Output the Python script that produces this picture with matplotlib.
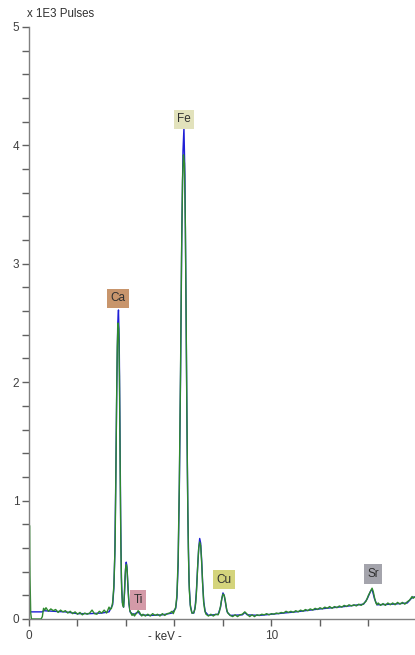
import matplotlib
matplotlib.use('Agg')
from matplotlib import pyplot as plt
from matplotlib.ticker import MultipleLocator

plt.rcParams['font.family'] = ['Liberation Sans', 'DejaVu Sans']

measKev = [
  0.00, 0.02, 0.04, 0.07, 0.10, 0.50, 0.55, 0.60, 0.65, 0.70,
  0.8, 0.9, 1.0, 1.1, 1.2, 1.3, 1.4, 1.5, 1.6, 1.7, 1.8, 1.9,
  2.0, 2.1, 2.2, 2.3, 2.4, 2.5, 2.6, 2.7, 2.8, 2.9, 3.0, 3.1, 3.2,
  3.3, 3.35, 3.4, 3.45, 3.5, 3.55, 3.58, 3.61, 3.64, 3.67, 3.70,
  3.73, 3.76, 3.79, 3.82, 3.86, 3.90, 3.93, 3.96, 3.99, 4.02, 4.05,
  4.08, 4.12, 4.16, 4.2, 4.25, 4.3, 4.35, 4.4, 4.45, 4.5, 4.55,
  4.6, 4.65, 4.7, 4.8, 4.9, 5.0, 5.1, 5.2, 5.3, 5.4, 5.5, 5.6, 5.7,
  5.8, 5.9, 5.95, 6.0, 6.05, 6.10, 6.15, 6.20, 6.25, 6.29, 6.33,
  6.37, 6.41, 6.45, 6.49, 6.53, 6.57, 6.61, 6.66, 6.72, 6.78, 6.84,
  6.88, 6.92, 6.96, 7.00, 7.04, 7.08, 7.12, 7.16, 7.20, 7.25, 7.3,
  7.4, 7.5, 7.6, 7.7, 7.8, 7.85, 7.9, 7.95, 8.0, 8.05, 8.1, 8.15,
  8.2, 8.3, 8.4, 8.5, 8.6, 8.7, 8.8, 8.9, 9.0, 9.1, 9.2, 9.3, 9.4,
  9.5, 9.6, 9.7, 9.8, 9.9, 10.0, 10.1, 10.2, 10.3, 10.4, 10.5, 10.6,
  10.7, 10.8, 10.9, 11.0, 11.1, 11.2, 11.3, 11.4, 11.5, 11.6, 11.7,
  11.8, 11.9, 12.0, 12.1, 12.2, 12.3, 12.4, 12.5, 12.6, 12.7, 12.8,
  12.9, 13.0, 13.1, 13.2, 13.3, 13.4, 13.5, 13.6, 13.7, 13.8, 13.9,
  14.0, 14.1, 14.15, 14.2, 14.25, 14.3, 14.35, 14.4, 14.5, 14.6,
  14.7, 14.8, 14.9, 15.0, 15.1, 15.2, 15.3, 15.4, 15.5, 15.6, 15.7,
  15.8, 15.85, 15.9, 16.0
]
measCounts = [
  0.05, 0.79, 0.36, 0.05, 0.00, 0.00, 0.02, 0.09, 0.075, 0.095,
  0.065, 0.085, 0.07, 0.08, 0.055, 0.075, 0.06, 0.07, 0.05, 0.065, 0.045, 0.06,
  0.04, 0.055, 0.035, 0.05, 0.04, 0.05, 0.075, 0.045, 0.04, 0.065, 0.05, 0.075, 0.05,
  0.10, 0.08, 0.09, 0.14, 0.28, 0.62, 1.15, 1.80, 2.30, 2.50, 2.45,
  2.05, 1.25, 0.60, 0.25, 0.12, 0.10, 0.20, 0.35, 0.44, 0.46, 0.40,
  0.27, 0.14, 0.07, 0.05, 0.03, 0.045, 0.025, 0.04, 0.05, 0.07, 0.06,
  0.04, 0.025, 0.04, 0.025, 0.04, 0.025, 0.045, 0.03, 0.04, 0.025, 0.045, 0.03, 0.045,
  0.05, 0.065, 0.045, 0.07, 0.10, 0.20, 0.50, 1.15, 2.10, 3.05, 3.70,
  3.92, 3.85, 3.30, 2.30, 1.30, 0.60, 0.25, 0.10, 0.05, 0.05, 0.08,
  0.14, 0.28, 0.46, 0.60, 0.65, 0.62, 0.48, 0.30, 0.15, 0.07, 0.04,
  0.025, 0.04, 0.025, 0.04, 0.035, 0.06, 0.11, 0.17, 0.21, 0.20, 0.15, 0.08,
  0.05, 0.03, 0.02, 0.035, 0.02, 0.035, 0.04, 0.06, 0.04, 0.02, 0.035, 0.02, 0.035,
  0.03, 0.04, 0.035, 0.045, 0.035, 0.045, 0.04, 0.05, 0.045, 0.055, 0.05, 0.065,
  0.055, 0.065, 0.055, 0.07, 0.06, 0.075, 0.065, 0.08, 0.07, 0.085, 0.075,
  0.09, 0.08, 0.095, 0.085, 0.1, 0.09, 0.105, 0.09, 0.105, 0.095, 0.11,
  0.10, 0.115, 0.105, 0.12, 0.11, 0.12, 0.11, 0.125, 0.115, 0.13, 0.15,
  0.20, 0.24, 0.26, 0.23, 0.18, 0.14, 0.12, 0.135, 0.115, 0.13,
  0.115, 0.135, 0.12, 0.135, 0.12, 0.14, 0.125, 0.14, 0.125, 0.145, 0.16,
  0.19, 0.175, 0.185, 0.19
]

# Fitted spectrum (blue), mostly hidden under the measured one.
fitKev = [
  0.0, 0.55, 0.6, 1.0, 1.5, 2.0, 2.5, 3.0, 3.3, 3.45, 3.5, 3.54, 3.58,
  3.62, 3.66, 3.69, 3.72, 3.75, 3.78, 3.81, 3.85, 3.9, 3.94, 3.98, 4.01,
  4.04, 4.08, 4.12, 4.17, 4.3, 4.5, 4.6, 5.0, 5.5, 5.9, 6.05, 6.1, 6.15,
  6.2, 6.25, 6.3, 6.35, 6.39, 6.43, 6.47, 6.51, 6.55, 6.6, 6.65, 6.72,
  6.8, 6.85, 6.9, 6.95, 7.0, 7.04, 7.08, 7.12, 7.16, 7.21, 7.27, 7.4,
  7.8, 7.9, 7.95, 8.0, 8.05, 8.1, 8.17, 8.3, 8.8, 8.9, 9.0, 9.5, 10.0,
  11.0, 12.0, 13.0, 13.8, 13.95, 14.1, 14.15, 14.25, 14.35, 15.0, 15.6,
  15.75, 15.85, 16.0
]
fitCounts = [
  0.06, 0.06, 0.07, 0.065, 0.06, 0.045, 0.045, 0.05, 0.06, 0.12, 0.26, 0.55, 1.2,
  1.95, 2.5, 2.61, 2.35, 1.65, 0.85, 0.35, 0.14, 0.10, 0.22, 0.42, 0.48,
  0.44, 0.28, 0.13, 0.06, 0.035, 0.06, 0.035, 0.03, 0.035, 0.05, 0.09, 0.18, 0.45,
  1.1, 2.05, 3.2, 3.95, 4.15, 3.75, 2.8, 1.75, 0.9, 0.32, 0.12, 0.05,
  0.05, 0.10, 0.22, 0.42, 0.60, 0.68, 0.64, 0.50, 0.31, 0.14, 0.06, 0.03,
  0.04, 0.10, 0.17, 0.22, 0.20, 0.14, 0.06, 0.03, 0.035, 0.055, 0.035, 0.03, 0.04,
  0.06, 0.085, 0.105, 0.125, 0.17, 0.24, 0.25, 0.17, 0.12, 0.125, 0.135,
  0.17, 0.185, 0.185
]

# Element markers.
elements = ['Ca', 'Fe', 'Ti', 'Cu', 'Sr']
elementKev = [3.68, 6.39, 4.50, 8.04, 14.19]
elementY = [2.71, 4.22, 0.16, 0.33, 0.38]
elementColors = ['#c8956c', '#e2e2bc', '#d49aa8', '#d4d47c', '#a4a4ac']

def generatePlot():
  fig = plt.figure(figsize=(4.15, 6.55), dpi=100)
  ax = fig.add_axes([0.0699, 0.055, 0.9301, 0.9038])

  ax.plot(fitKev, fitCounts, color='#1f1fd6', lw=1.0)
  ax.plot(measKev, measCounts, color='#2e8a2e', lw=1.0)

  for name, x, y, c in zip(elements, elementKev, elementY, elementColors):
    ax.text(x, y, name, ha='center', va='center', fontsize=8.5, color='#303030',
            bbox=dict(boxstyle='square,pad=0.3', fc=c, ec='none'))

  ax.set_xlim(0, 15.92)
  ax.set_ylim(0, 5)

  for side in ['top', 'right']:
    ax.spines[side].set_visible(False)
  for side in ['left', 'bottom']:
    ax.spines[side].set_color('#808080')
    ax.spines[side].set_linewidth(1.0)

  ax.set_xticks([0, 10])
  ax.xaxis.set_minor_locator(MultipleLocator(2))
  ax.set_yticks([0, 1, 2, 3, 4, 5])
  ax.yaxis.set_minor_locator(MultipleLocator(0.2))
  ax.tick_params(which='both', color='#606060', width=1.0, length=5,
                 labelsize=8.5, labelcolor='#404040')
  ax.tick_params(axis='y', pad=2)
  ax.tick_params(axis='x', pad=3)

  fig.text(0.065, 0.979, 'x 1E3 Pulses', ha='left', va='center',
           fontsize=8.3, color='#303030')
  fig.text(0.398, 0.027, '- keV -', ha='center', va='center',
           fontsize=8.3, color='#303030')

  fig.savefig('out.png', dpi=100)

if __name__ == '__main__':
  generatePlot()
